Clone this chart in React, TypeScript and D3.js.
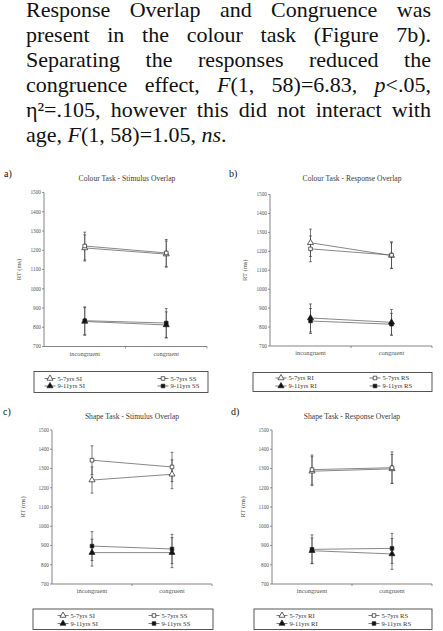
import React, { useLayoutEffect, useRef } from "react";
import * as d3 from "d3";

// ---------- DATA ----------
const categories = ["incongruent", "congruent"];
const yTicks = [700, 800, 900, 1000, 1100, 1200, 1300, 1400, 1500];

type Series = { label: string; shape: "tri" | "sq"; filled: boolean; mean: number[]; se: number[] };

const colourStimulus: Series[] = [
  { label: "5-7yrs SI", shape: "tri", filled: false, mean: [1212, 1180], se: [68, 68] },
  { label: "5-7yrs SS", shape: "sq", filled: false, mean: [1222, 1186], se: [72, 70] },
  { label: "9-11yrs SI", shape: "tri", filled: true, mean: [830, 812], se: [72, 68] },
  { label: "9-11yrs SS", shape: "sq", filled: true, mean: [834, 822], se: [72, 75] },
];
const colourResponse: Series[] = [
  { label: "5-7yrs RI", shape: "tri", filled: false, mean: [1245, 1178], se: [72, 68] },
  { label: "5-7yrs RS", shape: "sq", filled: false, mean: [1213, 1180], se: [68, 70] },
  { label: "9-11yrs RI", shape: "tri", filled: true, mean: [848, 825], se: [74, 68] },
  { label: "9-11yrs RS", shape: "sq", filled: true, mean: [832, 815], se: [66, 57] },
];
const shapeStimulus: Series[] = [
  { label: "5-7yrs SI", shape: "tri", filled: false, mean: [1240, 1270], se: [68, 75] },
  { label: "5-7yrs SS", shape: "sq", filled: false, mean: [1343, 1308], se: [75, 76] },
  { label: "9-11yrs SI", shape: "tri", filled: true, mean: [863, 863], se: [70, 78] },
  { label: "9-11yrs SS", shape: "sq", filled: true, mean: [897, 882], se: [75, 76] },
];
const shapeResponse: Series[] = [
  { label: "5-7yrs RI", shape: "tri", filled: false, mean: [1286, 1298], se: [75, 75] },
  { label: "5-7yrs RS", shape: "sq", filled: false, mean: [1294, 1304], se: [76, 82] },
  { label: "9-11yrs RI", shape: "tri", filled: true, mean: [873, 856], se: [66, 80] },
  { label: "9-11yrs RS", shape: "sq", filled: true, mean: [880, 885], se: [75, 78] },
];

const paragraphLines = [
  { parts: [{ t: "Response Overlap and Congruence was" }], justify: true },
  { parts: [{ t: "present in the colour task (Figure 7b)." }], justify: true },
  { parts: [{ t: "Separating the responses reduced the" }], justify: true },
  {
    parts: [{ t: "congruence effect, " }, { t: "F", i: true }, { t: "(1, 58)=6.83, " }, { t: "p", i: true }, { t: "<.05," }],
    justify: true,
  },
  { parts: [{ t: "η²=.105, however this did not interact with" }], justify: true },
  { parts: [{ t: "age, " }, { t: "F", i: true }, { t: "(1, 58)=1.05, " }, { t: "ns", i: true }, { t: "." }], justify: false },
];

// ---------- LAYOUT ----------
const FONT = "Liberation Serif, Tinos, Times New Roman, serif";
const INK = "#3a3a3a";

type PanelLayout = {
  tag: string;
  tagX: number;
  tagY: number;
  title: string;
  titleX: number;
  titleY: number;
  x0: number;
  x1: number;
  yTop: number;
  yBot: number;
  ylabX: number;
  legend: { x0: number; x1: number; y0: number; y1: number; c1m: number; c2m: number; r1: number; r2: number };
  data: Series[];
};

const panels: PanelLayout[] = [
  {
    tag: "a)", tagX: 4, tagY: 177, title: "Colour Task - Stimulus Overlap", titleX: 127, titleY: 181,
    x0: 44, x1: 207, yTop: 192.5, yBot: 346.5, ylabX: 21,
    legend: { x0: 34, x1: 208, y0: 371.5, y1: 392.5, c1m: 50, c2m: 163, r1: 378.5, r2: 386 },
    data: colourStimulus,
  },
  {
    tag: "b)", tagX: 229, tagY: 177, title: "Colour Task - Response Overlap", titleX: 352, titleY: 181,
    x0: 270, x1: 432, yTop: 194.5, yBot: 346, ylabX: 247,
    legend: { x0: 253, x1: 432, y0: 372.5, y1: 391.5, c1m: 281, c2m: 375, r1: 378, r2: 386 },
    data: colourResponse,
  },
  {
    tag: "c)", tagX: 3, tagY: 415, title: "Shape Task - Stimulus Overlap", titleX: 132, titleY: 419,
    x0: 52, x1: 212, yTop: 430, yBot: 584, ylabX: 25,
    legend: { x0: 33, x1: 213, y0: 609, y1: 629.5, c1m: 63, c2m: 154, r1: 615.5, r2: 623.5 },
    data: shapeStimulus,
  },
  {
    tag: "d)", tagX: 231, tagY: 415, title: "Shape Task - Response Overlap", titleX: 352, titleY: 419,
    x0: 272, x1: 432, yTop: 430, yBot: 584, ylabX: 245,
    legend: { x0: 254, x1: 432, y0: 609, y1: 629.5, c1m: 282, c2m: 374, r1: 615.5, r2: 623.5 },
    data: shapeResponse,
  },
];

function Marker({ s, x, y }: { s: Series; x: number; y: number }) {
  const sym = d3.symbol().type(s.shape === "tri" ? d3.symbolTriangle : d3.symbolSquare).size(s.shape === "tri" ? 16 : 13)();
  return (
    <path
      d={sym || ""}
      transform={`translate(${x},${y})`}
      fill={s.filled ? "#111" : "#fff"}
      stroke="#222"
      strokeWidth={0.7}
    />
  );
}

function Panel({ p }: { p: PanelLayout }) {
  const x = d3.scaleBand<string>().domain(categories).range([p.x0, p.x1]);
  const cx = (c: string) => (x(c) as number) + x.bandwidth() / 2;
  const y = d3.scaleLinear().domain([700, 1500]).range([p.yBot, p.yTop]);
  const line = d3
    .line<number>()
    .x((_, i) => cx(categories[i]))
    .y((v) => y(v));
  const midX = (p.x0 + p.x1) / 2;
  const L = p.legend;
  const legendPos = [
    { x: L.c1m, y: L.r1 },
    { x: L.c2m, y: L.r1 },
    { x: L.c1m, y: L.r2 },
    { x: L.c2m, y: L.r2 },
  ];
  return (
    <g style={{ fontFamily: FONT }}>
      <text x={p.tagX} y={p.tagY} fontSize={10} fill="#111">{p.tag}</text>
      <text x={p.titleX} y={p.titleY} fontSize={7.6} textAnchor="middle" fill={INK}>{p.title}</text>
      {/* y axis */}
      <line x1={p.x0} x2={p.x0} y1={y(1500)} y2={y(700)} stroke="#666" strokeWidth={0.8} />
      {yTicks.map((t) => (
        <g key={t}>
          <line x1={p.x0 - 2} x2={p.x0} y1={y(t)} y2={y(t)} stroke="#666" strokeWidth={0.7} />
          <text x={p.x0 - 3} y={y(t) + 1.8} fontSize={5.3} textAnchor="end" fill="#555">{t}</text>
        </g>
      ))}
      <text
        transform={`translate(${p.ylabX},${(p.yTop + p.yBot) / 2}) rotate(-90)`}
        fontSize={6.6}
        textAnchor="middle"
        fill="#555"
      >
        RT (ms)
      </text>
      {/* x axis */}
      <line x1={p.x0} x2={p.x1} y1={y(700)} y2={y(700)} stroke="#666" strokeWidth={0.8} />
      {[midX, p.x1].map((tx, i) => (
        <line key={i} x1={tx} x2={tx} y1={y(700)} y2={y(700) + 2} stroke="#666" strokeWidth={0.7} />
      ))}
      {categories.map((c) => (
        <text key={c} x={cx(c)} y={y(700) + 9} fontSize={6.4} textAnchor="middle" fill="#555">{c}</text>
      ))}
      {/* series */}
      {p.data.map((s, si) => (
        <g key={si}>
          <path d={line(s.mean) || ""} fill="none" stroke="#6a6a6a" strokeWidth={0.8} />
          {s.mean.map((m, i) => {
            const xx = cx(categories[i]);
            const hi = y(m + s.se[i]);
            const lo = y(m - s.se[i]);
            return (
              <g key={i} stroke="#444" strokeWidth={0.7}>
                <line x1={xx} x2={xx} y1={hi} y2={lo} />
                <line x1={xx - 1.4} x2={xx + 1.4} y1={hi} y2={hi} />
                <line x1={xx - 1.4} x2={xx + 1.4} y1={lo} y2={lo} />
              </g>
            );
          })}
        </g>
      ))}
      {p.data.map((s, si) => (
        <g key={"m" + si}>
          {s.mean.map((m, i) => (
            <Marker key={i} s={s} x={cx(categories[i])} y={y(m)} />
          ))}
        </g>
      ))}
      {/* legend */}
      <rect x={L.x0} y={L.y0} width={L.x1 - L.x0} height={L.y1 - L.y0} fill="#fff" stroke="#444" strokeWidth={0.9} />
      {p.data.map((s, si) => {
        const pos = legendPos[si];
        return (
          <g key={"l" + si}>
            <line x1={pos.x - 5.5} x2={pos.x + 5.5} y1={pos.y} y2={pos.y} stroke="#444" strokeWidth={0.7} />
            <Marker s={s} x={pos.x} y={pos.y} />
            <text x={pos.x + 7.5} y={pos.y + 2.2} fontSize={6.6} fill="#333">{s.label}</text>
          </g>
        );
      })}
    </g>
  );
}

export default function App() {
  const refs = useRef<(SVGTextElement | null)[]>([]);
  const LEFT = 26;
  const RIGHT = 431;

  useLayoutEffect(() => {
    document.body.style.margin = "0";
    refs.current.forEach((el, i) => {
      if (!el || !paragraphLines[i].justify) return;
      el.style.wordSpacing = "0px";
      const len = el.getComputedTextLength();
      const full = paragraphLines[i].parts.map((p) => p.t).join("");
      const spaces = (full.match(/ /g) || []).length;
      if (spaces > 0) el.style.wordSpacing = `${(RIGHT - LEFT - len) / spaces}px`;
    });
  }, []);

  return (
    <svg width={443} height={631} style={{ display: "block", background: "#fff" }}>
      <g style={{ fontFamily: FONT }} fontSize={22} fill="#111">
        {paragraphLines.map((ln, i) => (
          <text
            key={i}
            ref={(el) => {
              refs.current[i] = el;
            }}
            x={LEFT}
            y={17 + i * 25}
            style={{ whiteSpace: "pre", fontFamily: FONT }}
          >
            {ln.parts.map((pt: any, j) => (
              <tspan key={j} fontStyle={pt.i ? "italic" : "normal"}>{pt.t}</tspan>
            ))}
          </text>
        ))}
      </g>
      {panels.map((p, i) => (
        <Panel key={i} p={p} />
      ))}
    </svg>
  );
}
